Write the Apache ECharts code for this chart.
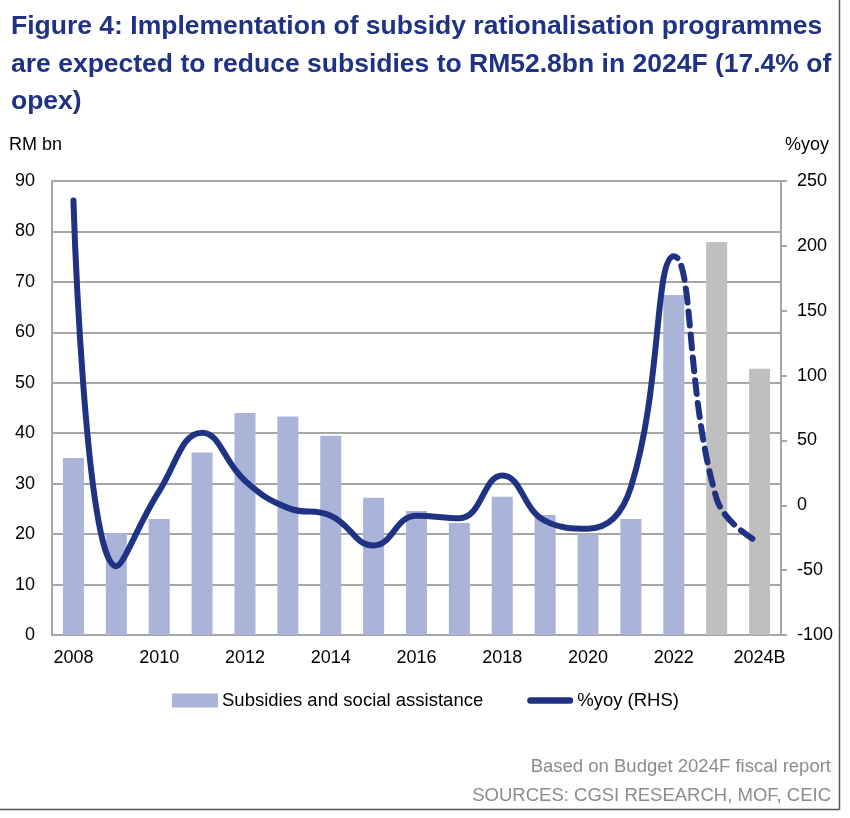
<!DOCTYPE html>
<html>
<head>
<meta charset="utf-8">
<script src="https://cdn.jsdelivr.net/npm/echarts@6/dist/echarts.min.js"></script>
<style>
html,body{margin:0;padding:0;background:#fff;}
#chart{width:850px;height:818px;}
</style>
</head>
<body>
<div id="chart"></div>
<script>
var categories = ['2008','2009','2010','2011','2012','2013','2014','2015','2016','2017','2018','2019','2020','2021','2022','2023','2024B'];
var subsidies = [35.1, 20.2, 23.0, 36.2, 44.0, 43.3, 39.5, 27.2, 24.6, 22.2, 27.4, 23.8, 20.0, 23.0, 67.4, 77.9, 52.8];
var isForecast = [false,false,false,false,false,false,false,false,false,false,false,false,false,false,false,true,true];
var yoy = [235, -47, 11, 56, 19, -2, -8, -31, -8, -10, 23, -12, -18, 14, 192, 5, -29];
var lastActualIndex = 14; // 2022: solid up to here, dashed after
var titleLines = ['Figure 4: Implementation of subsidy rationalisation programmes','are expected to reduce subsidies to RM52.8bn in 2024F (17.4% of','opex)'];
var leftTicks = {min:0, max:90, interval:10};
var rightTicks = {min:-100, max:250, interval:50};
var notes = ['Based on Budget 2024F fiscal report','SOURCES: CGSI RESEARCH, MOF, CEIC'];

var NAVY = '#1f3284';
var CLEAR = 'rgba(31,50,132,0)';
var FONT = '"Liberation Sans", Arial, Helvetica, sans-serif';
var chart = echarts.init(document.getElementById('chart'), null, {renderer:'canvas'});

var barData = subsidies.map(function(v, i){
  return {value: v, itemStyle: {color: isForecast[i] ? '#bfbfbf' : '#a9b4d8'}};
});
var lastIndex = categories.length - 1;

var option = {
  animation: false,
  backgroundColor: '#ffffff',
  textStyle: {fontFamily: FONT},
  title: {
    text: titleLines.join('\n'),
    left: 11, top: 8, padding: 0,
    textStyle: {fontFamily: FONT, fontSize: 26.5, fontWeight: 'bold', color: NAVY, lineHeight: 37.5}
  },
  grid: {left: 52, right: 69, top: 181, bottom: 183, containLabel: false},
  legend: {
    left: 167, top: 686,
    itemWidth: 46, itemHeight: 14, itemGap: 44,
    textStyle: {fontFamily: FONT, fontSize: 18.5, color: '#000', padding: [0,0,0,-1]},
    data: [
      {name: 'Subsidies and social assistance', icon: 'rect', itemStyle: {color: '#a9b4d8'}},
      {name: '%yoy (RHS)', icon: 'path://M3.5,0 L46.5,0 A3.5,3.5 0 0 1 46.5,7 L3.5,7 A3.5,3.5 0 0 1 3.5,0 Z', itemStyle: {color: NAVY}}
    ]
  },
  visualMap: [
    {
      show: false, type: 'piecewise', seriesIndex: 1, dimension: 0,
      pieces: [{min: -1, max: lastActualIndex, color: NAVY}],
      outOfRange: {color: CLEAR}
    },
    {
      show: false, type: 'piecewise', seriesIndex: 2, dimension: 0,
      pieces: [{min: lastActualIndex, max: lastIndex + 1, color: NAVY}],
      outOfRange: {color: CLEAR}
    }
  ],
  xAxis: {
    type: 'category',
    data: categories,
    boundaryGap: true,
    axisLine: {show: true, lineStyle: {color: '#a6a6a6', width: 2}},
    axisTick: {show: false},
    axisLabel: {interval: 1, margin: 14, fontSize: 18, color: '#000', fontFamily: FONT}
  },
  yAxis: [
    {
      type: 'value', min: leftTicks.min, max: leftTicks.max, interval: leftTicks.interval,
      axisLine: {show: true, lineStyle: {color: '#a6a6a6', width: 2}},
      axisTick: {show: false},
      axisLabel: {margin: 17, fontSize: 18, color: '#000', fontFamily: FONT},
      splitLine: {show: true, lineStyle: {color: '#a6a6a6', width: 2}}
    },
    {
      type: 'value', min: rightTicks.min, max: rightTicks.max, interval: rightTicks.interval,
      position: 'right',
      axisLine: {show: true, lineStyle: {color: '#a6a6a6', width: 2}},
      axisTick: {show: true, inside: false, length: 6, lineStyle: {color: '#a6a6a6', width: 2}},
      axisLabel: {margin: 16, fontSize: 18, color: '#000', fontFamily: FONT},
      splitLine: {show: false}
    }
  ],
  series: [
    {
      name: 'Subsidies and social assistance',
      type: 'bar',
      yAxisIndex: 0,
      barWidth: 21,
      itemStyle: {color: '#a9b4d8'},
      data: barData,
      z: 2
    },
    {
      name: '%yoy (RHS)',
      type: 'line',
      yAxisIndex: 1,
      smooth: 0.45,
      showSymbol: false,
      symbol: 'none',
      lineStyle: {width: 6, cap: 'round', join: 'round'},
      itemStyle: {color: NAVY},
      data: yoy,
      z: 5
    },
    {
      name: '%yoy forecast',
      type: 'line',
      yAxisIndex: 1,
      smooth: 0.45,
      showSymbol: false,
      symbol: 'none',
      lineStyle: {width: 6, type: [14, 9], cap: 'round'},
      itemStyle: {color: NAVY},
      data: yoy,
      z: 5
    }
  ],
  graphic: [
    {type: 'text', left: 9, top: 136, style: {text: 'RM bn', font: '18px ' + FONT, fill: '#000'}},
    {type: 'text', right: 21, top: 136, style: {text: '%yoy', font: '18px ' + FONT, fill: '#000'}},
    {type: 'text', right: 19, top: 757, style: {text: notes[0], font: '18.5px ' + FONT, fill: '#8c8c8c'}},
    {type: 'text', right: 19, top: 786, style: {text: notes[1], font: '18.5px ' + FONT, fill: '#8c8c8c'}},
    {type: 'line', shape: {x1: 839.5, y1: 0, x2: 839.5, y2: 809.5}, style: {stroke: '#555', lineWidth: 1.5}},
    {type: 'line', shape: {x1: 0, y1: 809.5, x2: 839.5, y2: 809.5}, style: {stroke: '#555', lineWidth: 1.5}}
  ]
};
chart.setOption(option);
</script>
</body>
</html>
